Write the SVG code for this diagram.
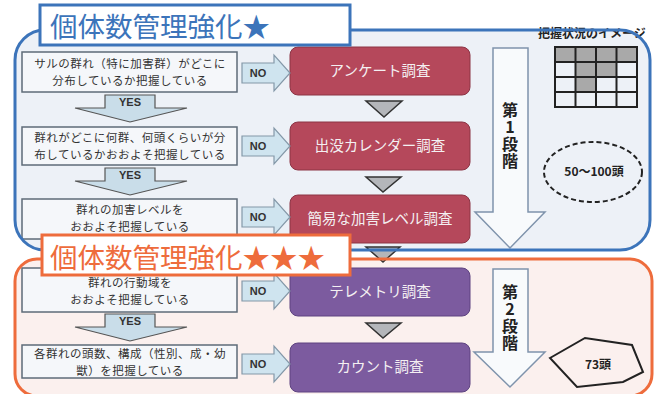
<svg xmlns="http://www.w3.org/2000/svg" width="661" height="394" viewBox="0 0 661 394">
<defs>
<style>
.jp{font-family:"Noto Sans CJK JP","Noto Sans",sans-serif}
.cond{fill:#F5F7FA;stroke:#5E6B78;stroke-width:1.5}
.ct{font-family:"Noto Sans CJK JP",sans-serif;font-size:11.5px;letter-spacing:0.5px;fill:#333;text-anchor:middle}
.no{fill:#CFE4EF;stroke:#8498A8;stroke-width:1.2}
.not{font-family:"Liberation Sans",Arial,sans-serif;font-size:11px;font-weight:bold;fill:#333;text-anchor:middle}
.yes{fill:#C9DDE9;stroke:#555;stroke-width:1.2}
.red{fill:#B5485B;stroke:#8C3445;stroke-width:1}
.pur{fill:#7C5B9F;stroke:#5E4380;stroke-width:1}
.bt{font-family:"Noto Sans CJK JP",sans-serif;font-size:14.5px;fill:#F4F0F2;text-anchor:middle}
.tri{fill:#B4B6BA;stroke:#333;stroke-width:1.5}
.stage{fill:#F8FAFC;stroke:#7F93AC;stroke-width:1.5}
.st{font-family:"Noto Sans CJK JP",sans-serif;font-size:16px;font-weight:bold;fill:#222;writing-mode:vertical-rl;text-orientation:upright;letter-spacing:1px}
.grid{fill:none;stroke:#222;stroke-width:2}
.sm{font-family:"Noto Sans CJK JP",sans-serif;font-size:12px;font-weight:bold;fill:#222;text-anchor:middle}
</style>
</defs>
<rect width="661" height="394" fill="#FFFFFF"/>
<g id="frame-blue-bg"><rect x="15" y="30" width="635" height="220" rx="30" fill="#EDF1F7"/></g>
<g id="frame-orange-bg"><rect x="15" y="259" width="637" height="137" rx="22" fill="#FBF0EE"/></g>

<g id="legend">
<text x="592" y="38" class="sm" fill="#3A3F48">把握状況のイメージ</text>
<rect x="555" y="47" width="82" height="15" fill="#A9A9A9"/>
<rect x="575.5" y="62" width="41" height="15" fill="#A9A9A9"/>
<rect x="575.5" y="77" width="20.5" height="15" fill="#A9A9A9"/>
<rect x="555" y="47" width="82" height="60" class="grid"/>
<path d="M575.5 47V107M596 47V107M616.5 47V107M555 62H637M555 77H637M555 92H637" class="grid"/>
</g>

<g id="cond1"><rect x="22" y="52" width="215" height="40" class="cond"/><text class="ct" x="130" y="68">サルの群れ（特に加害群）がどこに<tspan x="130" dy="16.8">分布しているか把握している</tspan></text></g>
<g id="cond2"><rect x="22" y="127" width="215" height="38" class="cond"/><text class="ct" x="130" y="142">群れがどこに何群、何頭くらいが分<tspan x="130" dy="16.8">布しているかおおよそ把握している</tspan></text></g>
<g id="cond3"><rect x="22" y="199" width="215" height="40" class="cond"/><text class="ct" x="130" y="214">群れの加害レベルを<tspan x="130" dy="16.8">おおよそ把握している</tspan></text></g>
<g id="cond4"><rect x="22" y="268" width="215" height="44" class="cond"/><text class="ct" x="130" y="287">群れの行動域を<tspan x="130" dy="16.8">おおよそ把握している</tspan></text></g>
<g id="cond5"><rect x="22" y="345" width="215" height="33" class="cond"/><text class="ct" x="130" y="358">各群れの頭数、構成（性別、成・幼<tspan x="130" dy="16.8">獣）を把握している</tspan></text></g>

<g id="box1"><rect x="290" y="47" width="180" height="48" rx="8" class="red"/><text class="bt" x="380" y="76">アンケート調査</text></g>
<g id="box2"><rect x="290" y="122" width="180" height="48" rx="8" class="red"/><text class="bt" x="380" y="151">出没カレンダー調査</text></g>
<g id="box3"><rect x="290" y="195" width="180" height="48" rx="8" class="red"/><text class="bt" x="380" y="224">簡易な加害レベル調査</text></g>
<g id="box4"><rect x="290" y="268" width="180" height="48" rx="8" class="pur"/><text class="bt" x="380" y="297">テレメトリ調査</text></g>
<g id="box5"><rect x="290" y="343" width="180" height="49" rx="8" class="pur"/><text class="bt" x="380" y="372">カウント調査</text></g>

<g id="stage1"><polygon class="stage" points="493,48 528,48 528,212 545,212 510,248 475,212 493,212"/>
<text class="st" x="510" y="102">第1段階</text></g>
<g id="stage2"><polygon class="stage" points="493,269 528,269 528,352 545,352 510,387 474,352 493,352"/>
<text class="st" x="510" y="284">第2段階</text></g>

<g id="est1"><ellipse cx="593" cy="172" rx="49" ry="30" fill="none" stroke="#222" stroke-width="2" stroke-dasharray="5,3"/><text class="sm" x="594" y="176">50～100頭</text></g>
<g id="est2"><polygon points="550,358 585,338 632,345 643,372 623,382 577,387" fill="none" stroke="#222" stroke-width="2"/><text class="sm" x="598" y="369">73頭</text></g>

<g id="connectors">
<polygon class="no" points="242,63 274,63 274,55 290,73 274,91 274,83 242,83"/><text class="not" x="258" y="77">NO</text>
<polygon class="no" points="242,136 274,136 274,128 290,146 274,164 274,156 242,156"/><text class="not" x="258" y="150">NO</text>
<polygon class="no" points="242,207 274,207 274,199 290,217 274,235 274,227 242,227"/><text class="not" x="258" y="221">NO</text>
<polygon class="no" points="242,281 274,281 274,273 290,291 274,309 274,301 242,301"/><text class="not" x="258" y="295">NO</text>
<polygon class="no" points="242,354 274,354 274,346 290,364 274,382 274,374 242,374"/><text class="not" x="258" y="368">NO</text>
<polygon class="yes" points="105,95 155,95 155,108 187,108 130,122 75,108 105,108"/><text class="not" x="130" y="106" font-size="10">YES</text>
<polygon class="yes" points="105,168 155,168 155,181 187,181 130,195 75,181 105,181"/><text class="not" x="130" y="179" font-size="10">YES</text>
<polygon class="yes" points="105,314 155,314 155,327 187,327 130,341 75,327 105,327"/><text class="not" x="130" y="325" font-size="10">YES</text>
<polygon class="tri" points="366,101 402,101 384,117"/>
<polygon class="tri" points="366,177 401,177 383,192"/>
<polygon class="tri" points="366,247 400,247 383,262"/>
<polygon class="tri" points="366,323 401,323 383,338"/>
</g>

<g id="frames">
<rect x="15" y="30" width="635" height="220" rx="30" fill="none" stroke="#3C74BA" stroke-width="3"/>
<rect x="15" y="259" width="637" height="137" rx="22" fill="none" stroke="#EE6C3C" stroke-width="3"/>
</g>
<g id="title1"><rect x="40" y="5" width="310" height="40" fill="#FFFFFF" stroke="#3C74BA" stroke-width="3"/><text class="jp" x="50" y="37" font-size="27.5" fill="#3C74BA">個体数管理強化★</text></g>
<g id="title2"><rect x="42" y="235" width="308" height="40" fill="#FFFFFF" stroke="#EE6C3C" stroke-width="3"/><text class="jp" x="50" y="268" font-size="27.5" fill="#EE6C3C">個体数管理強化★★★</text></g>
</svg>
